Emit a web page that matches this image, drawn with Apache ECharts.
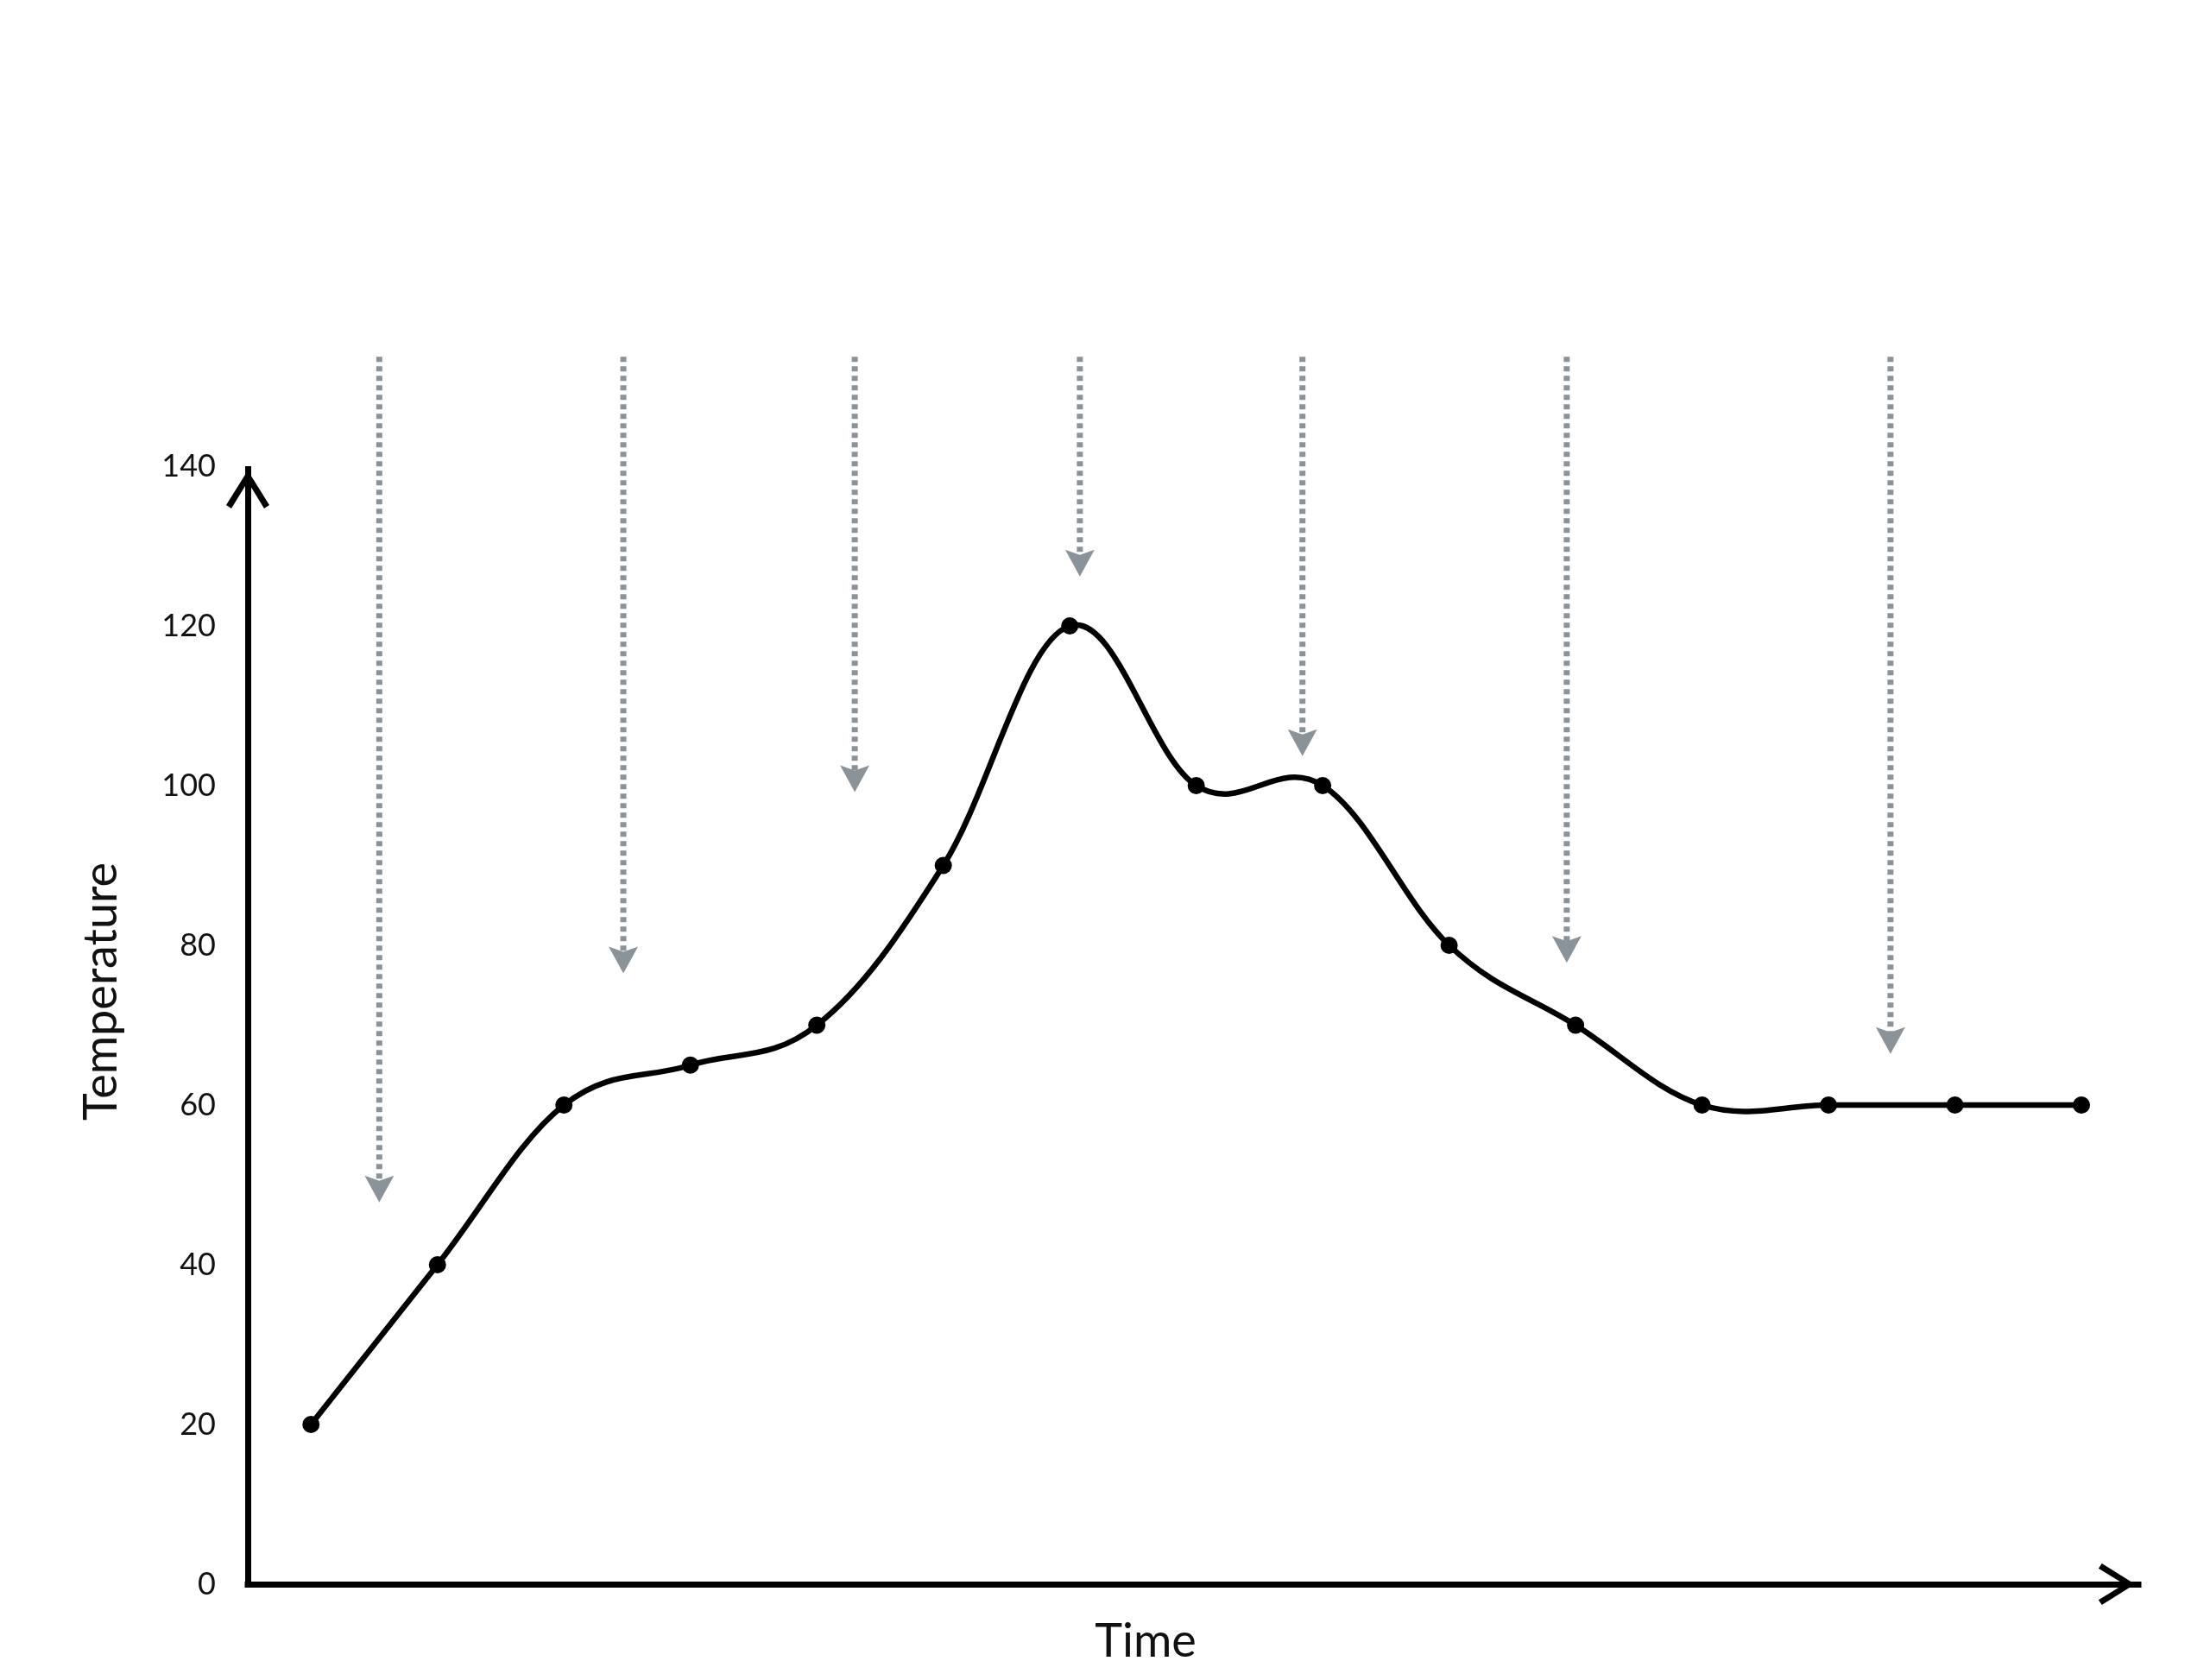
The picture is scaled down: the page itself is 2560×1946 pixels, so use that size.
<!DOCTYPE html>
<html>
<head>
<meta charset="utf-8">
<title>Temperature over time</title>
<script src="https://cdn.jsdelivr.net/npm/echarts@6/dist/echarts.min.js"></script>
<style>
  html, body { margin: 0; padding: 0; background: #fff; }
  #chart { width: 2560px; height: 1946px; }
</style>
</head>
<body>
<div id="chart"></div>
<script>
// temperature readings, one per time step
var timeSteps = [0, 1, 2, 3, 4, 5, 6, 7, 8, 9, 10, 11, 12, 13, 14];
var temperature = [20, 40, 60, 65, 70, 90, 120, 100, 100, 80, 70, 60, 60, 60, 60];

// dotted grey arrows coming down from the top
var arrowX = [0.54, 2.47, 4.30, 6.08, 7.84, 9.93, 12.49];
var arrowTip = [47.8, 76.5, 99.2, 126.2, 103.7, 77.8, 66.4];
var arrowTop = 153.7;

var yTicks = [0, 20, 40, 60, 80, 100, 120, 140];

var lineData = [];
for (var i = 0; i < timeSteps.length; i++) {
    lineData.push([timeSteps[i], temperature[i]]);
}
var arrowData = [];
for (var j = 0; j < arrowX.length; j++) {
    arrowData.push([arrowX[j], arrowTip[j], arrowTop]);
}

// open chevron used as the axis end
var chevron = 'path://M25,0 L50,40 L44,44 L25,13 L6,44 L0,40 Z';
var fontName = 'Lato, "Noto Sans", sans-serif';
var arrowColor = '#8b939a';
var tension = 1 / 5.5;

var chart = echarts.init(document.getElementById('chart'));

// cardinal spline through the points (the picture overshoots a little between equal values)
function renderCurve(params, api) {
    var pts = [];
    for (var k = 0; k < lineData.length; k++) {
        pts.push(api.coord(lineData[k]));
    }
    var segs = [];
    for (var s = 0; s < pts.length - 1; s++) {
        var p0 = pts[s > 0 ? s - 1 : s];
        var p1 = pts[s];
        var p2 = pts[s + 1];
        var p3 = pts[s + 2 < pts.length ? s + 2 : s + 1];
        segs.push({
            type: 'bezierCurve',
            shape: {
                x1: p1[0], y1: p1[1],
                cpx1: p1[0] + (p2[0] - p0[0]) * tension,
                cpy1: p1[1] + (p2[1] - p0[1]) * tension,
                cpx2: p2[0] - (p3[0] - p1[0]) * tension,
                cpy2: p2[1] - (p3[1] - p1[1]) * tension,
                x2: p2[0], y2: p2[1]
            },
            style: { stroke: '#000', lineWidth: 6.5, fill: null, lineCap: 'round' }
        });
    }
    return { type: 'group', children: segs };
}

var option = {
    backgroundColor: '#fff',
    animation: false,
    grid: { left: 287, right: 83, top: 540, bottom: 111, containLabel: false },
    xAxis: {
        type: 'value',
        min: -0.5,
        max: 14.45,
        name: 'Time',
        nameLocation: 'middle',
        nameGap: 40,
        nameTextStyle: { fontFamily: fontName, fontSize: 54, color: '#111', padding: [0, 110, 0, 0] },
        axisLine: {
            show: true,
            onZero: false,
            symbol: ['none', chevron],
            symbolSize: [48, 50],
            symbolOffset: [0, -25],
            lineStyle: { color: '#000', width: 7, cap: 'square' }
        },
        axisTick: { show: false },
        axisLabel: { show: false },
        splitLine: { show: false }
    },
    yAxis: {
        type: 'value',
        min: 0,
        max: 140,
        interval: 20,
        name: 'Temperature',
        nameLocation: 'middle',
        nameGap: 142,
        nameTextStyle: { fontFamily: fontName, fontSize: 54, color: '#111', padding: [0, 0, 0, 78] },
        axisLine: {
            show: true,
            onZero: false,
            symbol: ['none', chevron],
            symbolSize: [50, 46],
            symbolOffset: [0, -27],
            lineStyle: { color: '#000', width: 7, cap: 'butt' }
        },
        axisTick: { show: false },
        axisLabel: {
            fontFamily: fontName,
            fontSize: 36,
            color: '#111',
            margin: 37,
            formatter: function (v) { return yTicks.indexOf(v) >= 0 ? String(v) : ''; }
        },
        splitLine: { show: false }
    },
    series: [
        {
            type: 'custom',
            data: arrowData,
            z: 1,
            clip: false,
            renderItem: function (params, api) {
                var top = api.coord([api.value(0), api.value(2)]);
                var tip = api.coord([api.value(0), api.value(1)]);
                var x = tip[0], y = tip[1];
                return {
                    type: 'group',
                    children: [
                        {
                            type: 'line',
                            shape: { x1: x, y1: top[1], x2: x, y2: y - 24 },
                            style: { stroke: arrowColor, lineWidth: 7, lineDash: [6, 5] }
                        },
                        {
                            type: 'polygon',
                            shape: { points: [[x, y], [x - 17, y - 31], [x, y - 25], [x + 17, y - 31]] },
                            style: { fill: arrowColor }
                        }
                    ]
                };
            }
        },
        {
            type: 'custom',
            data: [0],
            z: 2,
            clip: false,
            renderItem: renderCurve
        },
        {
            type: 'scatter',
            data: lineData,
            z: 3,
            symbol: 'circle',
            symbolSize: 20,
            itemStyle: { color: '#000', opacity: 1 }
        }
    ]
};

chart.setOption(option);
</script>
</body>
</html>
